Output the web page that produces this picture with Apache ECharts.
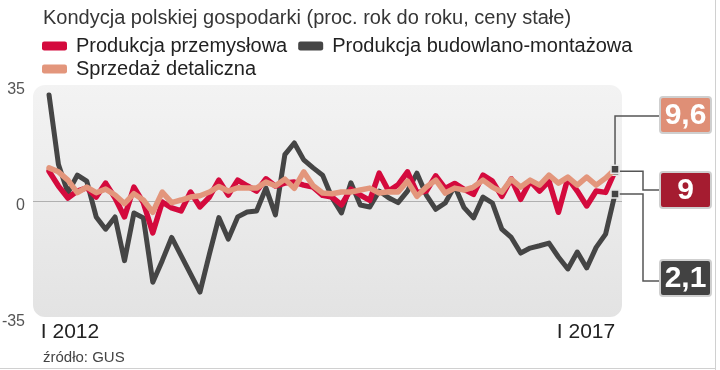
<!DOCTYPE html>
<html><head><meta charset="utf-8">
<script src="https://cdn.jsdelivr.net/npm/echarts@6/dist/echarts.min.js"></script>
<style>html,body{margin:0;padding:0;background:#fff}#c{width:720px;height:370px}</style>
</head><body><div id="c"></div>
<script>
// ---- data ----
const titleText = 'Kondycja polskiej gospodarki (proc. rok do roku, ceny stałe)';
const sourceText = 'źródło: GUS';
const seriesNames = ['Produkcja przemysłowa', 'Produkcja budowlano-montażowa', 'Sprzedaż detaliczna'];
const months = [
 'I 2012','II 2012','III 2012','IV 2012','V 2012','VI 2012','VII 2012','VIII 2012','IX 2012','X 2012','XI 2012','XII 2012',
 'I 2013','II 2013','III 2013','IV 2013','V 2013','VI 2013','VII 2013','VIII 2013','IX 2013','X 2013','XI 2013','XII 2013',
 'I 2014','II 2014','III 2014','IV 2014','V 2014','VI 2014','VII 2014','VIII 2014','IX 2014','X 2014','XI 2014','XII 2014',
 'I 2015','II 2015','III 2015','IV 2015','V 2015','VI 2015','VII 2015','VIII 2015','IX 2015','X 2015','XI 2015','XII 2015',
 'I 2016','II 2016','III 2016','IV 2016','V 2016','VI 2016','VII 2016','VIII 2016','IX 2016','X 2016','XI 2016','XII 2016',
 'I 2017'
];
const tickLabels = ['I 2012', 'I 2017'];
const yTicks = [-35, 0, 35];
const industrial = [
 9.0, 4.5, 0.9, 3.0, 4.0, 1.2, 5.4, 0.9, -4.8, 4.2, -0.5, -9.6,
 -0.3, -2.1, -3.0, 2.7, -1.8, 1.2, 6.3, 1.8, 6.3, 4.6, 3.0, 6.7,
 4.5, 5.4, 5.7, 4.8, 4.2, 1.7, 1.2, -1.2, 3.6, 1.8, 0.2, 8.4,
 3.0, 4.9, 8.8, 2.5, 3.0, 7.6, 3.8, 5.3, 3.5, 2.0, 7.8, 6.0,
 1.4, 6.7, 0.5, 6.0, 3.0, 6.0, -3.4, 6.9, 3.0, -1.5, 3.0, 2.6,
 9.0
];
const construction = [
 32.0, 11.0, 2.5, 7.8, 6.0, -4.8, -8.5, -4.8, -18.0, -3.6, -5.1, -24.5,
 -18.0, -11.0, -16.5, -22.0, -27.5, -16.0, -5.0, -11.5, -4.8, -3.3, -3.0, 3.9,
 -4.2, 14.0, 17.5, 12.4, 10.0, 7.8, 1.0, -3.6, 5.5, -1.2, -1.8, 3.0,
 1.0, -0.5, 3.0, 8.4, 1.8, -2.5, -0.6, 4.5, -2.0, -5.1, 1.2, -0.6,
 -8.5, -11.0, -15.7, -14.2, -13.5, -12.7, -16.9, -20.5, -15.4, -20.2, -14.0, -10.0,
 2.1
];
const retail = [
 10.0, 8.8, 6.3, 2.5, 4.2, 2.5, 3.6, 1.8, -0.8, 2.2, 0.3, -3.4,
 2.7, -0.5, 0.3, 1.2, 1.6, 2.7, 4.4, 3.0, 4.0, 3.9, 3.9, 5.7,
 4.6, 6.6, 3.8, 8.8, 4.6, 2.4, 2.2, 2.7, 2.7, 3.3, 3.9, 2.4,
 2.8, 2.7, 6.0, 1.4, 4.2, 6.3, 2.4, 3.9, 3.3, 4.2, 6.3, 4.2,
 2.7, 6.6, 4.2, 6.3, 4.8, 7.8, 5.4, 7.2, 4.8, 7.2, 4.8, 6.9,
 9.6
];

// ---- styles ----
const NARROW = '"Liberation Sans Narrow", "Liberation Sans", sans-serif';
const REG = '"Liberation Sans", sans-serif';
const C_IND = '#d40a3d', C_CON = '#454545', C_RET = '#e3967c';
const lastI = months.length - 1;

function lineSeries(name, vals, color, z, w) {
  return {
    type: 'line', name: name, z: z,
    data: vals.map((v, i) => i === lastI
      ? { value: [i, v], symbol: 'rect', symbolSize: 8,
          itemStyle: { color: '#444', borderColor: '#e6e6e6', borderWidth: 1.5 } }
      : [i, v]),
    symbol: 'none', showSymbol: true,
    lineStyle: { width: w, color: color, join: 'round', cap: 'round' },
    itemStyle: { color: color },
    animation: false, silent: true
  };
}

const chart = echarts.init(document.getElementById('c'), null, { renderer: 'canvas' });
const legendText = { fontFamily: NARROW, fontSize: 20, color: '#222', padding: [0, 0, 0, 4] };

const option = {
  animation: false,
  backgroundColor: '#fff',
  title: [
    { text: titleText, left: 38, top: 3, textStyle: { fontFamily: NARROW, fontSize: 20, fontWeight: 'normal', color: '#363636' } },
    { text: sourceText, left: 38, top: 345, textStyle: { fontFamily: NARROW, fontSize: 15, fontWeight: 'normal', color: '#444' } }
  ],
  legend: [
    { data: [seriesNames[0], seriesNames[1]], left: 37, top: 31, icon: 'roundRect', itemWidth: 25, itemHeight: 9, itemGap: 11, textStyle: legendText, selectedMode: false },
    { data: [seriesNames[2]], left: 37, top: 54, icon: 'roundRect', itemWidth: 25, itemHeight: 9, textStyle: legendText, selectedMode: false }
  ],
  grid: { left: 33, right: 98, top: 85, bottom: 53, outerBoundsMode: 'none', containLabel: false },
  xAxis: {
    type: 'value', min: -1.7, max: 60.74,
    axisLine: { show: false }, axisTick: { show: false }, splitLine: { show: false },
    axisLabel: {
      customValues: [0, lastI], margin: 5,
      formatter: v => v === 0 ? '{l|' + tickLabels[0] + '}' : '{r|' + tickLabels[1] + '}',
      rich: {
        l: { padding: [0, 0, 0, 42], fontSize: 21, fontFamily: NARROW, color: '#222' },
        r: { padding: [0, 58, 0, 0], fontSize: 21, fontFamily: NARROW, color: '#222' }
      }
    }
  },
  yAxis: {
    type: 'value', min: yTicks[0], max: yTicks[2], interval: 35,
    axisLine: { show: false }, axisTick: { show: false },
    axisLabel: {
      margin: 8,
      formatter: v => '{a|' + v + '}',
      rich: { a: { fontFamily: REG, fontSize: 16, color: '#555', padding: [9, 0, 0, 0] } }
    },
    splitLine: { show: true, lineStyle: { color: ['rgba(0,0,0,0)', '#b0b0b0', 'rgba(0,0,0,0)'], width: 1 } }
  },
  graphic: [
    { type: 'rect', z: -10, shape: { x: 33, y: 85, width: 589, height: 232, r: 12 },
      style: { fill: new echarts.graphic.LinearGradient(0, 0, 0, 1, [{ offset: 0, color: '#f3f3f3' }, { offset: 1, color: '#e3e3e3' }]) } }
  ],
  series: [
    lineSeries(seriesNames[1], construction, C_CON, 2, 5),
    lineSeries(seriesNames[0], industrial, C_IND, 3, 5.5),
    lineSeries(seriesNames[2], retail, C_RET, 4, 5.5)
  ]
};
chart.setOption(option);

// ---- end-value boxes with connectors ----
const fmt = v => String(v).replace('.', ',');
const pRet = chart.convertToPixel({ gridIndex: 0 }, [lastI, retail[lastI]]);
const pInd = chart.convertToPixel({ gridIndex: 0 }, [lastI, industrial[lastI]]);
const pCon = chart.convertToPixel({ gridIndex: 0 }, [lastI, construction[lastI]]);
const bx = 660, bw = 51, bh = 36, elbow = 643;
const boxes = [
  { v: retail[lastI], fill: '#df8f76', y: 97, pts: [[pRet[0], pRet[1]], [pRet[0], 116], [bx, 116]] },
  { v: industrial[lastI], fill: '#a51c30', y: 172, pts: [[pInd[0], pInd[1]], [elbow, pInd[1]], [elbow, 190], [bx, 190]] },
  { v: construction[lastI], fill: '#424242', y: 260, pts: [[pCon[0], pCon[1]], [elbow, pCon[1]], [elbow, 281], [bx, 281]] }
];
const g = option.graphic.slice();
boxes.forEach(b => {
  g.push({ type: 'polyline', z: 1, shape: { points: b.pts }, style: { stroke: '#555', lineWidth: 1.5, fill: null } });
  g.push({ type: 'rect', z: 1, shape: { x: bx, y: b.y, width: bw, height: bh, r: 3 }, style: { fill: b.fill, stroke: '#cfcfcf', lineWidth: 2 } });
  g.push({ type: 'text', z: 2, style: { text: fmt(b.v), x: bx + bw / 2, y: b.y + bh / 2 + 1, align: 'center', verticalAlign: 'middle', fill: '#fff', font: 'bold 30px ' + REG } });
});
g.push({ type: 'line', z: 1, shape: { x1: 715.5, y1: 0, x2: 715.5, y2: 370 }, style: { stroke: '#d0d0d0', lineWidth: 1 } });
g.push({ type: 'line', z: 1, shape: { x1: 0, y1: 368.5, x2: 716, y2: 368.5 }, style: { stroke: '#d0d0d0', lineWidth: 1 } });
chart.setOption({ graphic: g });
</script>
</body></html>
